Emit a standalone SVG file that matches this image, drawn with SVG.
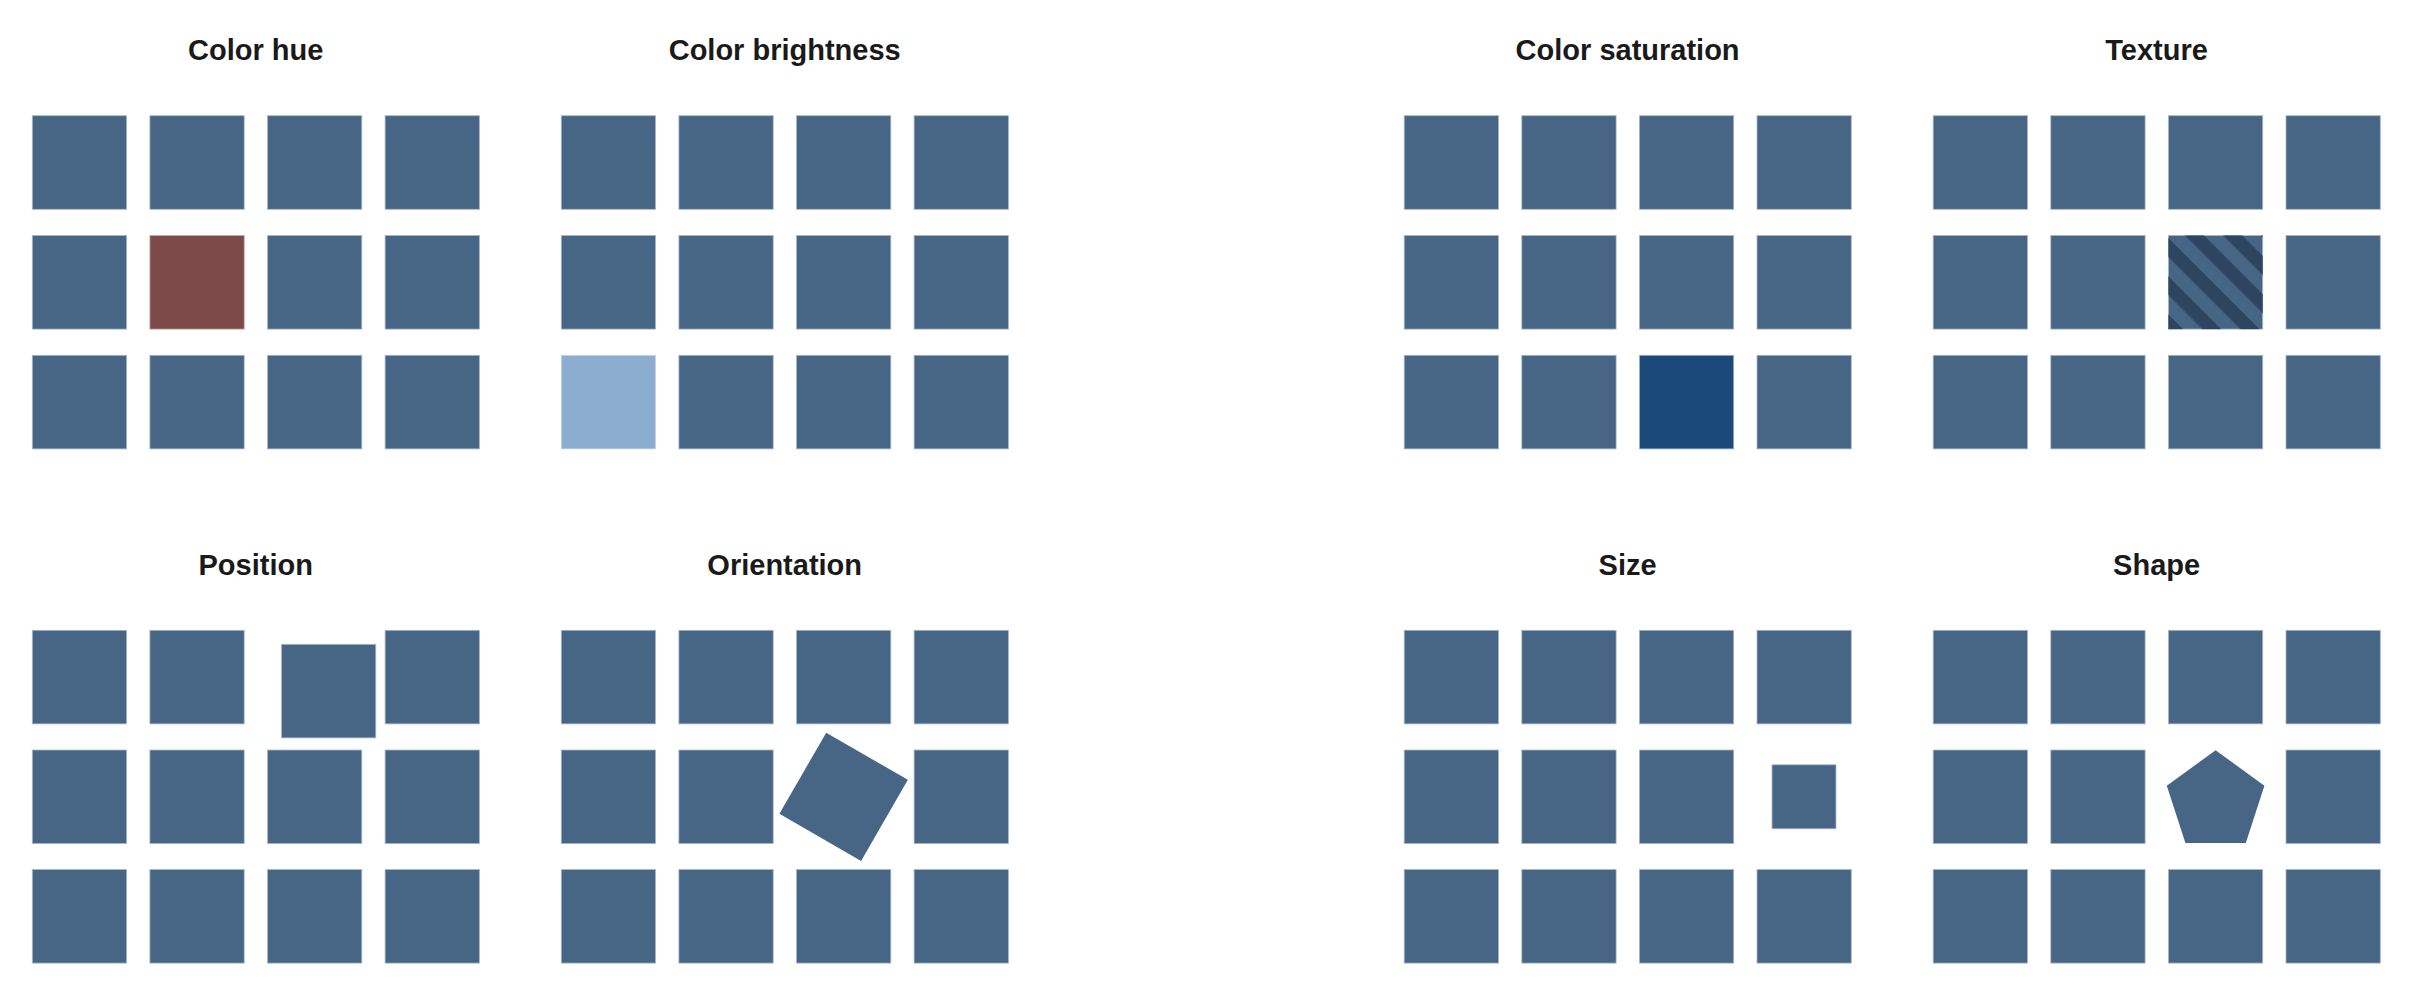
<svg xmlns="http://www.w3.org/2000/svg" width="2430" height="998" viewBox="0 0 2430 998">
<style>
.t{font-family:"Liberation Sans",Arial,sans-serif;font-weight:bold;font-size:29px;fill:#1a1a1a;text-anchor:middle}
.sq{fill:#476685;stroke:#a8b8c9;stroke-width:0.8}
</style>
<defs>
<rect id="s" width="94.3" height="93.6" class="sq"/>
<pattern id="stripes" patternUnits="userSpaceOnUse" width="27" height="27" patternTransform="rotate(-45)">
<rect x="1.5" y="0" width="13.5" height="27" fill="#2d4560"/>
</pattern>
</defs>
<rect width="2430" height="998" fill="#ffffff"/>

<g id="color-hue">
<text class="t" x="255.7" y="60">Color hue</text>
<use href="#s" x="32.3" y="115.7"/><use href="#s" x="149.9" y="115.7"/><use href="#s" x="267.5" y="115.7"/><use href="#s" x="385.1" y="115.7"/>
<use href="#s" x="32.3" y="235.5"/><rect x="149.9" y="235.5" width="94.3" height="93.6" fill="#7e4949" stroke="#c9a9a9" stroke-width="0.8"/><use href="#s" x="267.5" y="235.5"/><use href="#s" x="385.1" y="235.5"/>
<use href="#s" x="32.3" y="355.3"/><use href="#s" x="149.9" y="355.3"/><use href="#s" x="267.5" y="355.3"/><use href="#s" x="385.1" y="355.3"/>
</g>

<g id="color-brightness">
<text class="t" x="784.7" y="60">Color brightness</text>
<use href="#s" x="561.3" y="115.7"/><use href="#s" x="678.9" y="115.7"/><use href="#s" x="796.5" y="115.7"/><use href="#s" x="914.1" y="115.7"/>
<use href="#s" x="561.3" y="235.5"/><use href="#s" x="678.9" y="235.5"/><use href="#s" x="796.5" y="235.5"/><use href="#s" x="914.1" y="235.5"/>
<rect x="561.3" y="355.3" width="94.3" height="93.6" fill="#8aadd0" stroke="#c5d6e8" stroke-width="0.8"/><use href="#s" x="678.9" y="355.3"/><use href="#s" x="796.5" y="355.3"/><use href="#s" x="914.1" y="355.3"/>
</g>

<g id="color-saturation">
<text class="t" x="1627.6" y="60">Color saturation</text>
<use href="#s" x="1404.2" y="115.7"/><use href="#s" x="1521.8" y="115.7"/><use href="#s" x="1639.4" y="115.7"/><use href="#s" x="1757" y="115.7"/>
<use href="#s" x="1404.2" y="235.5"/><use href="#s" x="1521.8" y="235.5"/><use href="#s" x="1639.4" y="235.5"/><use href="#s" x="1757" y="235.5"/>
<use href="#s" x="1404.2" y="355.3"/><use href="#s" x="1521.8" y="355.3"/><rect x="1639.4" y="355.3" width="94.3" height="93.6" fill="#1b4a7a" stroke="#9fb3c9" stroke-width="0.8"/><use href="#s" x="1757" y="355.3"/>
</g>

<g id="texture">
<text class="t" x="2156.6" y="60">Texture</text>
<use href="#s" x="1933.2" y="115.7"/><use href="#s" x="2050.8" y="115.7"/><use href="#s" x="2168.4" y="115.7"/><use href="#s" x="2286" y="115.7"/>
<use href="#s" x="1933.2" y="235.5"/><use href="#s" x="2050.8" y="235.5"/><use href="#s" x="2168.4" y="235.5"/><rect x="2168.4" y="235.5" width="94.3" height="93.6" fill="url(#stripes)"/><use href="#s" x="2286" y="235.5"/>
<use href="#s" x="1933.2" y="355.3"/><use href="#s" x="2050.8" y="355.3"/><use href="#s" x="2168.4" y="355.3"/><use href="#s" x="2286" y="355.3"/>
</g>

<g id="position">
<text class="t" x="255.7" y="575">Position</text>
<use href="#s" x="32.3" y="630.3"/><use href="#s" x="149.9" y="630.3"/><use href="#s" x="281.5" y="644.3"/><use href="#s" x="385.1" y="630.3"/>
<use href="#s" x="32.3" y="750"/><use href="#s" x="149.9" y="750"/><use href="#s" x="267.5" y="750"/><use href="#s" x="385.1" y="750"/>
<use href="#s" x="32.3" y="869.5"/><use href="#s" x="149.9" y="869.5"/><use href="#s" x="267.5" y="869.5"/><use href="#s" x="385.1" y="869.5"/>
</g>

<g id="orientation">
<text class="t" x="784.7" y="575">Orientation</text>
<use href="#s" x="561.3" y="630.3"/><use href="#s" x="678.9" y="630.3"/><use href="#s" x="796.5" y="630.3"/><use href="#s" x="914.1" y="630.3"/>
<use href="#s" x="561.3" y="750"/><use href="#s" x="678.9" y="750"/><rect x="796.5" y="750" width="94.3" height="93.6" fill="#476685" transform="rotate(30 843.65 796.8)"/><use href="#s" x="914.1" y="750"/>
<use href="#s" x="561.3" y="869.5"/><use href="#s" x="678.9" y="869.5"/><use href="#s" x="796.5" y="869.5"/><use href="#s" x="914.1" y="869.5"/>
</g>

<g id="size">
<text class="t" x="1627.6" y="575">Size</text>
<use href="#s" x="1404.2" y="630.3"/><use href="#s" x="1521.8" y="630.3"/><use href="#s" x="1639.4" y="630.3"/><use href="#s" x="1757" y="630.3"/>
<use href="#s" x="1404.2" y="750"/><use href="#s" x="1521.8" y="750"/><use href="#s" x="1639.4" y="750"/><rect x="1772" y="764.8" width="64" height="64" class="sq"/>
<use href="#s" x="1404.2" y="869.5"/><use href="#s" x="1521.8" y="869.5"/><use href="#s" x="1639.4" y="869.5"/><use href="#s" x="1757" y="869.5"/>
</g>

<g id="shape">
<text class="t" x="2156.6" y="575">Shape</text>
<use href="#s" x="1933.2" y="630.3"/><use href="#s" x="2050.8" y="630.3"/><use href="#s" x="2168.4" y="630.3"/><use href="#s" x="2286" y="630.3"/>
<use href="#s" x="1933.2" y="750"/><use href="#s" x="2050.8" y="750"/><polygon points="2215.6,750.3 2264.4,785.7 2245.8,843.1 2185.4,843.1 2166.8,785.7" fill="#476685"/><use href="#s" x="2286" y="750"/>
<use href="#s" x="1933.2" y="869.5"/><use href="#s" x="2050.8" y="869.5"/><use href="#s" x="2168.4" y="869.5"/><use href="#s" x="2286" y="869.5"/>
</g>
<g id="connectors"/>
</svg>
